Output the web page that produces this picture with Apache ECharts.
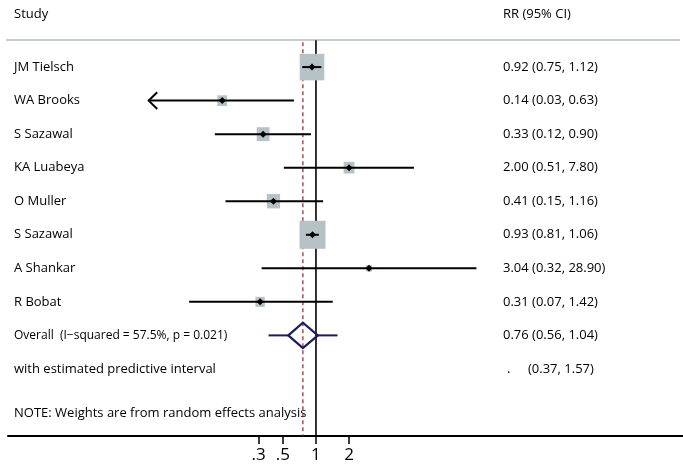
<!DOCTYPE html>
<html><head><meta charset="utf-8">
<script src="https://cdn.jsdelivr.net/npm/echarts@6/dist/echarts.min.js"></script>
<style>html,body{margin:0;padding:0;background:#fff}#c{width:683px;height:471px}</style>
</head><body><div id="c"></div>
<script>
// ---- data ----
const studies = ['JM Tielsch', 'WA Brooks', 'S Sazawal', 'KA Luabeya', 'O Muller', 'S Sazawal', 'A Shankar', 'R Bobat'];
const rr      = [0.92, 0.14, 0.33, 2.00, 0.41, 0.93, 3.04, 0.31];
const ciLow   = [0.75, 0.03, 0.12, 0.51, 0.15, 0.81, 0.32, 0.07];
const ciHigh  = [1.12, 0.63, 0.90, 7.80, 1.16, 1.06, 28.90, 1.42];
const weights = [31.2, 5.0, 8.5, 6.0, 9.1, 34.9, 1.8, 4.5]; // % weight
const overallEst = [0.76, 0.56, 1.04];      // RR, low, high
const predInterval = [0.37, 1.57];
const overallLabel = 'Overall  (I\u2212squared = 57.5%, p = 0.021)';
const predLabel = 'with estimated predictive interval';
const noteText = 'NOTE: Weights are from random effects analysis';
const tickValues = [0.3, 0.5, 1, 2];
const tickLabels = ['.3', '.5', '1', '2'];
const arrowBelow = 0.05;   // CIs extending below this are drawn with an arrow

// ---- chart ----
const FONT = '"Open Sans", sans-serif';
const FS = 13;
const LEFT_X = 14, RIGHT_X = 503;
const fmt = v => v.toFixed(2);

const chart = echarts.init(document.getElementById('c'), null, {renderer: 'canvas'});

const studyData = studies.map((n, i) => [i, rr[i], ciLow[i], ciHigh[i], weights[i]]);

const option = {
  animation: false,
  backgroundColor: '#fff',
  grid: {left: 8, right: 0, top: 0, bottom: 35},
  xAxis: {
    type: 'log', logBase: 10, min: 0.00157, max: 2196,
    splitLine: {show: false},
    axisLine: {show: true, onZero: false, lineStyle: {color: '#000', width: 2}},
    axisTick: {show: true, customValues: tickValues, length: 8, lineStyle: {color: '#000', width: 1.5}},
    axisLabel: {
      show: true, customValues: tickValues, margin: 11,
      fontSize: 17, color: '#000', fontFamily: FONT,
      formatter: v => {
        let best = 0;
        tickValues.forEach((t, k) => { if (Math.abs(t - v) < Math.abs(tickValues[best] - v)) best = k; });
        return tickLabels[best];
      }
    }
  },
  yAxis: {type: 'value', min: -2, max: 11, inverse: true, show: false},
  graphic: [
    {type: 'text', left: LEFT_X, top: 8, style: {text: 'Study', fontSize: FS, fontFamily: FONT, fill: '#000'}},
    {type: 'text', left: RIGHT_X, top: 8, style: {text: 'RR (95% CI)', fontSize: FS, fontFamily: FONT, fill: '#000'}},
    {type: 'line', shape: {x1: 6, y1: 40, x2: 680, y2: 40}, style: {stroke: '#c6ced2', lineWidth: 2}, z: 1},
    {type: 'text', left: LEFT_X, top: 407, style: {text: noteText, fontSize: FS, fontFamily: FONT, fill: '#000'}}
  ],
  series: [
    { // reference lines: null effect (1) and overall estimate (dashed)
      type: 'custom', z: 1, clip: false,
      data: [[1, 0], [overallEst[0], 1]],
      renderItem(params, api) {
        const top = api.coord([api.value(0), -0.8]);
        const bot = api.coord([api.value(0), 11]);
        const dashed = api.value(1) === 1;
        return {
          type: 'line',
          shape: {x1: top[0], y1: dashed ? top[1] + 2 : top[1], x2: bot[0], y2: bot[1]},
          style: dashed ? {stroke: '#8e2434', lineWidth: 1.2, lineDash: [4, 3]} : {stroke: '#000', lineWidth: 1.6}
        };
      }
    },
    { // studies
      type: 'custom', z: 3, clip: false,
      data: studyData,
      renderItem(params, api) {
        const i = api.value(0);
        const c = api.coord([api.value(1), i]);
        const l = api.coord([api.value(2), i]);
        const h = api.coord([api.value(3), i]);
        const s = 4.4 * Math.sqrt(api.value(4));
        const y = c[1];
        const children = [
          {type: 'rect', shape: {x: c[0] - s / 2, y: y - s * 0.54, width: s, height: s * 1.08}, style: {fill: '#b6c2c6'}},
          {type: 'line', shape: {x1: l[0], y1: y, x2: h[0], y2: y}, style: {stroke: '#000', lineWidth: 2}},
          {type: 'polygon', shape: {points: [[c[0] - 3.5, y], [c[0], y - 3.5], [c[0] + 3.5, y], [c[0], y + 3.5]]}, style: {fill: '#000'}},
          {type: 'text', style: {text: studies[params.dataIndex], x: LEFT_X, y: y, verticalAlign: 'middle', fontSize: FS, fontFamily: FONT, fill: '#000'}},
          {type: 'text', style: {text: fmt(api.value(1)) + ' (' + fmt(api.value(2)) + ', ' + fmt(api.value(3)) + ')', x: RIGHT_X, y: y, verticalAlign: 'middle', fontSize: FS, fontFamily: FONT, fill: '#000'}}
        ];
        if (api.value(2) < arrowBelow) {
          children.push({type: 'polyline', shape: {points: [[l[0] + 8.5, y - 8.3], [l[0], y], [l[0] + 8.5, y + 8.3]]}, style: {stroke: '#000', lineWidth: 2, fill: null}});
        }
        return {type: 'group', children};
      }
    },
    { // overall diamond + predictive interval
      type: 'custom', z: 3, clip: false,
      data: [[8, overallEst[0], overallEst[1], overallEst[2], predInterval[0], predInterval[1]]],
      renderItem(params, api) {
        const row = api.value(0);
        const c = api.coord([api.value(1), row]);
        const l = api.coord([api.value(2), row]);
        const h = api.coord([api.value(3), row]);
        const pl = api.coord([api.value(4), row]);
        const ph = api.coord([api.value(5), row]);
        const y = c[1];
        const y2 = api.coord([1, row + 1])[1];
        const navy = '#1c1b5c';
        const hh = 12.7;
        return {type: 'group', children: [
          {type: 'line', shape: {x1: pl[0], y1: y, x2: l[0], y2: y}, style: {stroke: navy, lineWidth: 2}},
          {type: 'line', shape: {x1: h[0], y1: y, x2: ph[0], y2: y}, style: {stroke: navy, lineWidth: 2}},
          {type: 'polygon', shape: {points: [[l[0], y], [c[0], y - hh], [h[0], y], [c[0], y + hh]]}, style: {fill: null, stroke: navy, lineWidth: 2.2}},
          {type: 'text', style: {text: overallLabel, x: LEFT_X, y: y, verticalAlign: 'middle', fontSize: FS - 1, fontFamily: FONT, fill: '#000'}},
          {type: 'text', style: {text: fmt(api.value(1)) + ' (' + fmt(api.value(2)) + ', ' + fmt(api.value(3)) + ')', x: RIGHT_X, y: y, verticalAlign: 'middle', fontSize: FS, fontFamily: FONT, fill: '#000'}},
          {type: 'text', style: {text: predLabel, x: LEFT_X, y: y2, verticalAlign: 'middle', fontSize: FS, fontFamily: FONT, fill: '#000'}},
          {type: 'text', style: {text: '.', x: RIGHT_X + 4, y: y2, verticalAlign: 'middle', fontSize: FS, fontFamily: FONT, fill: '#000'}},
          {type: 'text', style: {text: '(' + fmt(api.value(4)) + ', ' + fmt(api.value(5)) + ')', x: RIGHT_X + 25, y: y2, verticalAlign: 'middle', fontSize: FS, fontFamily: FONT, fill: '#000'}}
        ]};
      }
    }
  ]
};
chart.setOption(option);
</script>
</body></html>
